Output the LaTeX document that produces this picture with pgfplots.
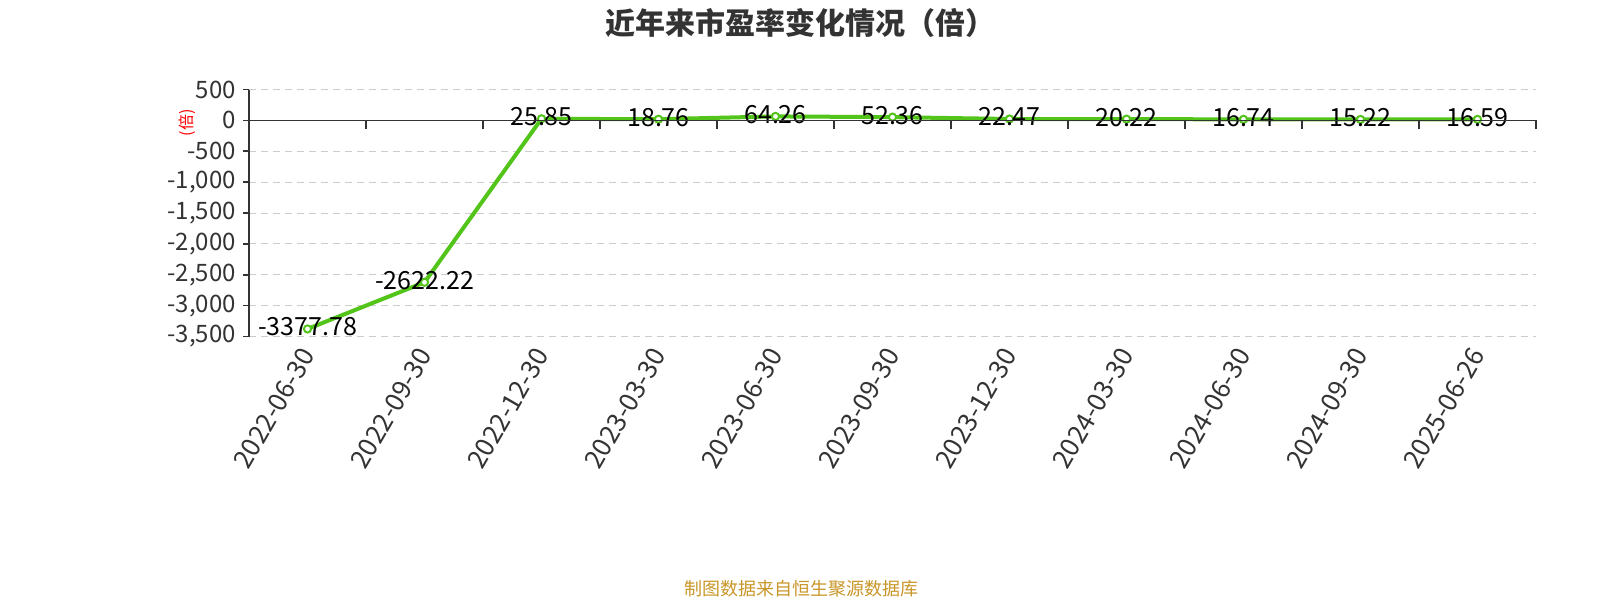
\documentclass[border=0pt]{standalone}
\usepackage{pgfplots}
\pgfplotsset{compat=1.18}
\usepackage{fontspec}
\setmainfont{Noto Sans CJK SC}
\definecolor{linegreen}{RGB}{82,196,26}
\definecolor{txt}{RGB}{51,51,51}
\definecolor{gridc}{RGB}{204,204,204}
\definecolor{foot}{RGB}{200,150,40}
\pgfplotstableread{
x y lab
0 -3377.78 -3377.78
1 -2622.22 -2622.22
2 25.85 25.85
3 18.76 18.76
4 64.26 64.26
5 52.36 52.36
6 22.47 22.47
7 20.22 20.22
8 16.74 16.74
9 15.22 15.22
10 16.59 16.59
}\petable
\begin{document}
\begin{tikzpicture}
\path[use as bounding box] (0pt,0pt) rectangle (800pt,300pt);
\begin{axis}[
  at={(124.5pt,131.75pt)}, anchor=south west,
  scale only axis, width=643.5pt, height=123.5pt,
  xmin=-0.5, xmax=10.5, ymin=-3500, ymax=500,
  axis y line=left, axis x line=bottom,
  axis line style={-},
  x axis line style={draw=none},
  y axis line style={draw=txt, line width=0.8pt},
  xtick={0,...,10},
  xticklabels={2022-06-30,2022-09-30,2022-12-30,2023-03-30,2023-06-30,2023-09-30,2023-12-30,2024-03-30,2024-06-30,2024-09-30,2025-06-26},
  major x tick style={draw=none},
  xticklabel style={rotate=60, anchor=east, font=\fontsize{13}{15}\selectfont, text=txt, yshift=-2pt},
  ytick={-3500,-3000,...,500},
  yticklabel style={font=\fontsize{12}{14}\selectfont, text=txt},
  y tick style={draw=txt, line width=0.8pt},
  tick align=outside, major tick length=3pt,
  /pgf/number format/assume math mode=true,
  /pgf/number format/1000 sep={,},
  ymajorgrids, grid style={gridc, line width=0.5pt, dash pattern=on 3.5pt off 2.5pt},
  clip=false,
]
\addplot[linegreen, line width=2pt, mark=*, mark size=1.8pt,
  mark options={fill=white, draw=linegreen, line width=1pt},
  nodes near coords, point meta=explicit symbolic,
  every node near coord/.append style={anchor=center, text=black, font=\fontsize{12.5}{14}\selectfont, yshift=1pt}]
  table[x=x, y=y, meta=lab]{\petable};
\end{axis}
\begin{axis}[
  at={(124.5pt,239.8pt)}, anchor=south west,
  scale only axis, width=643.5pt, height=15.44pt,
  xmin=-0.5, xmax=10.5, ymin=0, ymax=500,
  axis x line=bottom, axis y line=none,
  axis line style={-, draw=txt, line width=0.8pt},
  xtick={-0.5,0.5,...,10.5}, xticklabels={},
  x tick style={draw=txt, line width=0.8pt},
  tick align=outside, major tick length=4.5pt,
  ytick=\empty,
]
\end{axis}
\node[text=txt, font=\fontsize{15}{18}\selectfont\bfseries] at (400pt,288.5pt) {近年来市盈率变化情况（倍）};
\node[text=red, rotate=90, font=\fontsize{8}{10}\selectfont] at (93.5pt,238.5pt) {(倍)};
\node[text=foot, font=\fontsize{9}{11}\selectfont] at (400.5pt,5.5pt) {制图数据来自恒生聚源数据库};
\end{tikzpicture}
\end{document}
